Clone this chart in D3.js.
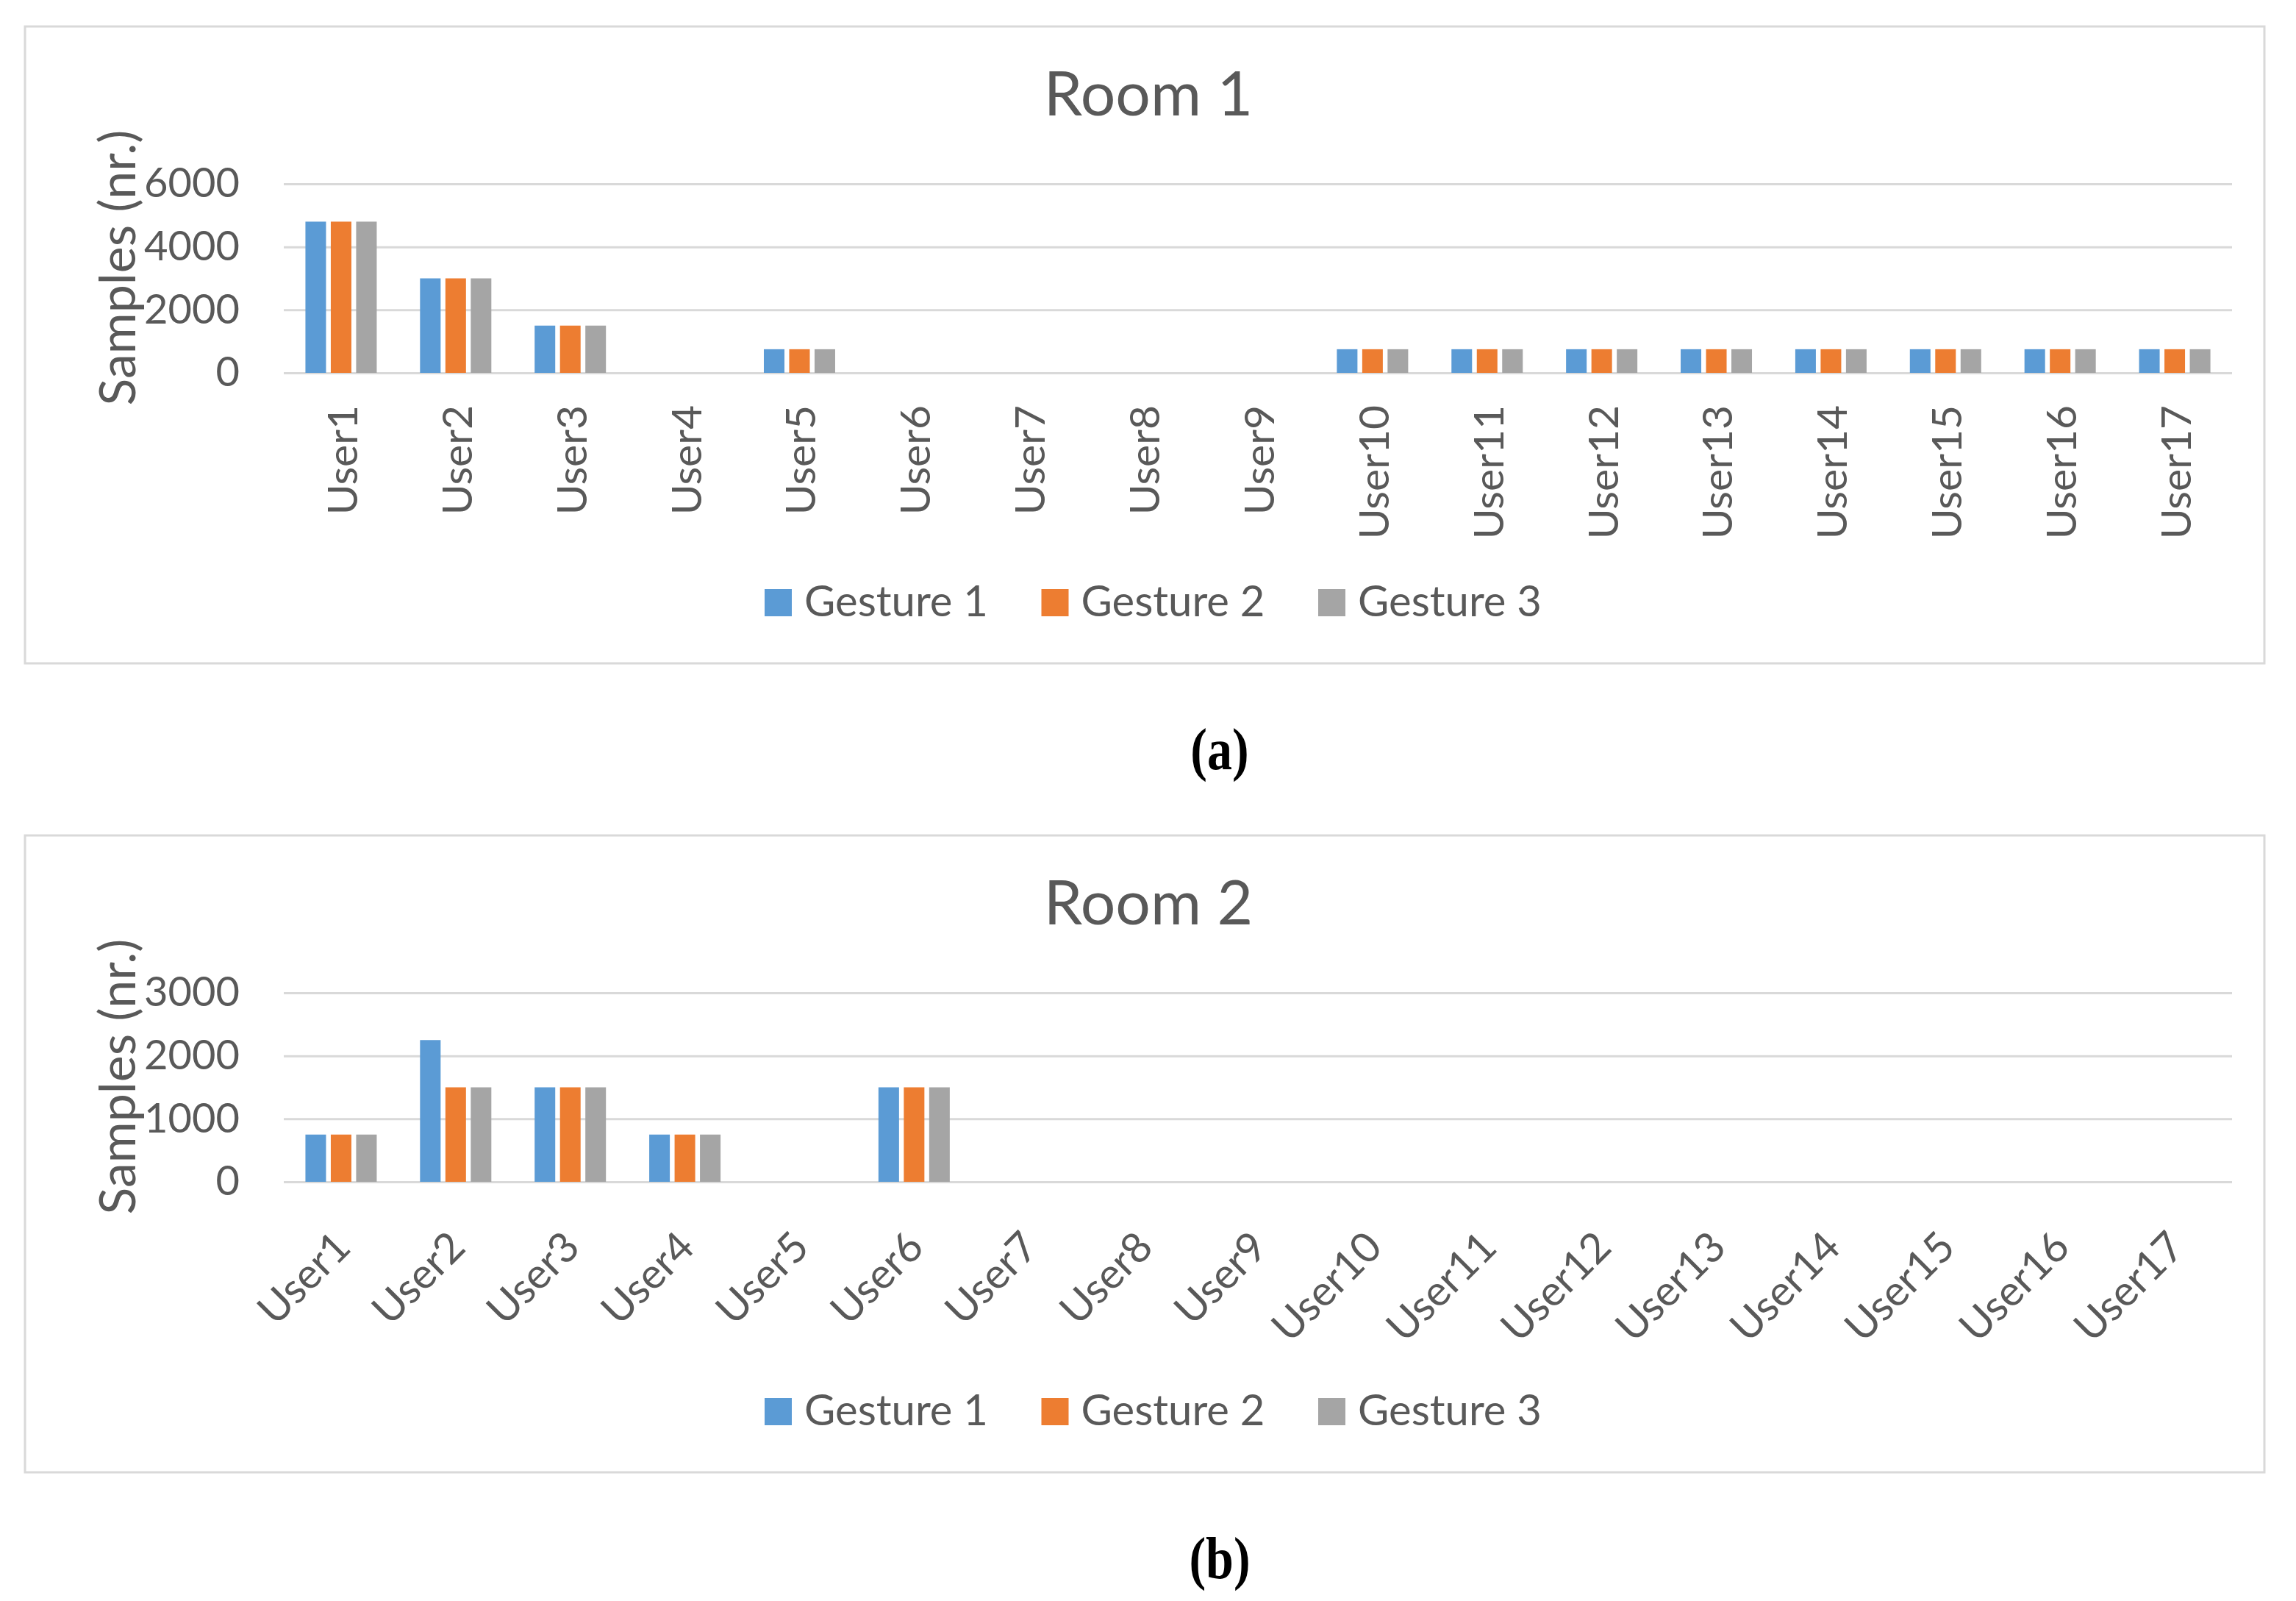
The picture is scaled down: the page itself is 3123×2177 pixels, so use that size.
<!DOCTYPE html>
<html lang="en">
<head>
    <meta charset="UTF-8">
    <title>Samples per user</title>
    <script src="https://d3js.org/d3.v7.min.js" charset="utf-8"></script>
    <style>
        body { margin: 0; background: #fff; }
        text { font-family: Lato, "Open Sans", sans-serif; fill: #595959; }
    </style>
</head>
<body>
<script>
    // data
    var users = ["User1", "User2", "User3", "User4", "User5", "User6", "User7", "User8", "User9",
        "User10", "User11", "User12", "User13", "User14", "User15", "User16", "User17"];
    var gestures = ["Gesture 1", "Gesture 2", "Gesture 3"];

    var room1Gesture1 = [4800, 3000, 1500, 0, 750, 0, 0, 0, 0, 750, 750, 750, 750, 750, 750, 750, 750];
    var room1Gesture2 = [4800, 3000, 1500, 0, 750, 0, 0, 0, 0, 750, 750, 750, 750, 750, 750, 750, 750];
    var room1Gesture3 = [4800, 3000, 1500, 0, 750, 0, 0, 0, 0, 750, 750, 750, 750, 750, 750, 750, 750];

    var room2Gesture1 = [750, 2250, 1500, 750, 0, 1500, 0, 0, 0, 0, 0, 0, 0, 0, 0, 0, 0];
    var room2Gesture2 = [750, 1500, 1500, 750, 0, 1500, 0, 0, 0, 0, 0, 0, 0, 0, 0, 0, 0];
    var room2Gesture3 = [750, 1500, 1500, 750, 0, 1500, 0, 0, 0, 0, 0, 0, 0, 0, 0, 0, 0];

    var room1Ticks = [0, 2000, 4000, 6000];
    var room2Ticks = [0, 1000, 2000, 3000];

    var colors = ["#5b9bd5", "#ed7d31", "#a5a5a5"];
    var gridColor = "#d9d9d9";

    var W = 3123, H = 2177;
    var svg = d3.select("body").append("svg")
        .attr("width", W)
        .attr("height", H);
    svg.append("rect").attr("width", W).attr("height", H).attr("fill", "#fff");

    // plot area inside each panel (panel 1 coords; panel 2 is shifted down)
    var plotLeft = 386, plotRight = 3036, plotTop = 250, plotBottom = 507;

    function drawPanel(dy, title, values, ticks, angle, caption) {
        var g = svg.append("g").attr("transform", "translate(0," + dy + ")");

        // outer frame
        g.append("rect")
            .attr("x", 34).attr("y", 36)
            .attr("width", 3046).attr("height", 866)
            .attr("fill", "none")
            .attr("stroke", gridColor)
            .attr("stroke-width", 3);

        var x = d3.scaleBand().domain(users).range([plotLeft, plotRight]);
        var x1 = d3.scaleBand().domain(gestures).range([0, 97]).paddingInner(0.188);
        var y = d3.scaleLinear().domain([0, ticks[ticks.length - 1]]).range([plotBottom, plotTop]);

        // gridlines + y labels
        var yAxis = g.append("g")
            .attr("transform", "translate(" + plotLeft + ",0)")
            .call(d3.axisLeft(y).tickValues(ticks).tickFormat(d3.format("d"))
                .tickSize(-(plotRight - plotLeft)).tickPadding(60));
        yAxis.select(".domain").remove();
        yAxis.selectAll(".tick line").attr("stroke", gridColor).attr("stroke-width", 3);
        yAxis.selectAll(".tick text")
            .style("font-family", "Lato, sans-serif")
            .style("font-size", "56px")
            .attr("fill", "#595959");

        // bars
        var rows = users.map(function(u, i) {
            return {user: u, vals: values.map(function(s, k) { return {g: gestures[k], v: s[i]}; })};
        });
        var groups = g.selectAll(".grp").data(rows).enter().append("g")
            .attr("transform", function(d) { return "translate(" + (x(d.user) + (x.bandwidth() - 97) / 2) + ",0)"; });
        groups.selectAll("rect").data(function(d) { return d.vals; }).enter().append("rect")
            .attr("x", function(d) { return x1(d.g); })
            .attr("width", x1.bandwidth())
            .attr("y", function(d) { return y(d.v); })
            .attr("height", function(d) { return y(0) - y(d.v); })
            .attr("fill", function(d, k) { return colors[k]; });

        // category axis
        var xAxis = g.append("g")
            .attr("transform", "translate(0," + plotBottom + ")")
            .call(d3.axisBottom(x).tickSize(0));
        xAxis.select(".domain").remove();
        var lab = xAxis.selectAll(".tick text")
            .style("font-family", "Lato, sans-serif")
            .style("font-size", "57px")
            .attr("fill", "#595959")
            .attr("x", 0).attr("y", 0)
            .style("text-anchor", "end");
        if (angle === -90) {
            lab.attr("dy", "0.35em").attr("transform", "translate(2,44) rotate(-90)");
        } else {
            lab.attr("dy", "0").attr("transform", "translate(16,92) rotate(-45)");
        }

        // title
        g.append("text")
            .attr("x", 1562).attr("y", 157)
            .attr("text-anchor", "middle")
            .style("font-size", "84px")
            .text(title);

        // y axis title
        g.append("text")
            .attr("transform", "translate(184,364) rotate(-90)")
            .attr("text-anchor", "middle")
            .style("font-size", "68px")
            .text("Samples (nr.)");

        // legend
        var leg = g.selectAll(".leg").data(gestures).enter().append("g")
            .attr("transform", function(d, i) { return "translate(" + (1040 + i * 376.5) + ",801)"; });
        leg.append("rect").attr("width", 37).attr("height", 37)
            .attr("fill", function(d, i) { return colors[i]; });
        leg.append("text").attr("x", 54).attr("y", 37)
            .style("font-size", "58px")
            .text(function(d) { return d; });

        // panel caption
        g.append("text")
            .attr("transform", "translate(1659,1046) scale(0.85,1)")
            .attr("text-anchor", "middle")
            .style("font-family", "'Liberation Serif', serif")
            .style("font-size", "80px")
            .style("font-weight", "bold")
            .style("fill", "#000")
            .text(caption);
    }

    drawPanel(0, "Room 1", [room1Gesture1, room1Gesture2, room1Gesture3], room1Ticks, -90, "(a)");
    drawPanel(1100, "Room 2", [room2Gesture1, room2Gesture2, room2Gesture3], room2Ticks, -45, "(b)");
</script>
</body>
</html>
